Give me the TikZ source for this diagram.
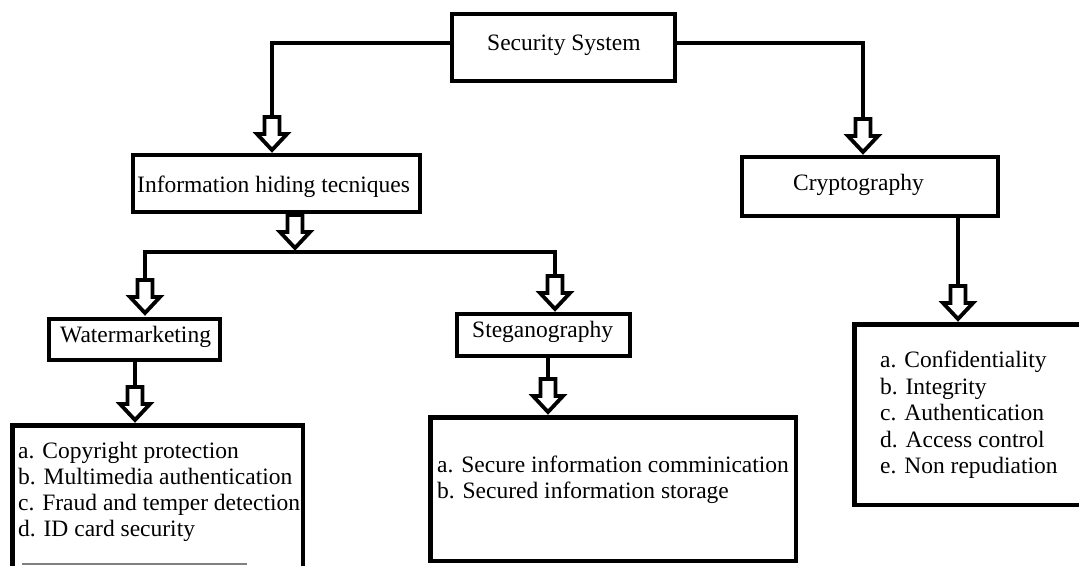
\documentclass[tikz,border=0pt]{standalone}
\usepackage{fontspec}
\setmainfont{Liberation Serif}
\usetikzlibrary{calc}
\begin{document}
\begin{tikzpicture}[x=1pt,y=-1pt,
  box/.style={draw, line width=4.5pt, inner sep=0pt},
  conn/.style={line width=4pt},
  txt/.style={anchor=base west, inner sep=0pt, font=\fontsize{23.5}{26.5}\selectfont},
  pics/hollow/.style={code={
    \draw[line width=3.8pt, fill=white, line join=miter]
      (-7.5,-36) -- (-7.5,-19) -- (-15,-19) -- (0,-3) -- (15,-19) -- (7.5,-19) -- (7.5,-36) -- cycle;}}
]
\useasboundingbox (0,0) rectangle (1079,565);
\clip (0,0) rectangle (1079,565);

% boxes
\node[box, minimum width=223pt, minimum height=67pt]   (ss)    at (563.5,47.5) {};
\node[box, minimum width=287pt, minimum height=57pt]   (info)  at (276.5,183.5) {};
\node[box, minimum width=256pt, minimum height=59pt]   (crypt) at (870,186.5) {};
\node[box, minimum width=171pt, minimum height=41pt]   (wm)    at (134.5,339.5) {};
\node[box, minimum width=173pt, minimum height=42pt]   (steg)  at (543.5,335) {};
\node[box, minimum width=290.5pt, minimum height=200pt] (wml)  at (157.5,525.25) {};
\node[box, minimum width=365.5pt, minimum height=143.5pt] (stl) at (613,489) {};
\node[box, minimum width=300pt, minimum height=180.5pt] (crl)  at (1004.25,414.5) {};

% box captions
\node[txt] (ss-t)    at (487,50)  {Security System};
\node[txt] (info-t)  at (137,192) {Information hiding tecniques};
\node[txt] (crypt-t) at (793,190) {Cryptography};
\node[txt] (wm-t)    at (60,342)  {Watermarketing};
\node[txt] (steg-t)  at (472,337) {Steganography};

% item lists
\node[txt] (wml1) at (18,458) {a. Copyright protection};
\node[txt] (wml2) at (18,484) {b. Multimedia authentication};
\node[txt] (wml3) at (18,510.5) {c. Fraud and temper detection};
\node[txt] (wml4) at (18,536.5) {d. ID card security};

\node[txt] (stl1) at (437,472.5) {a. Secure information comminication};
\node[txt] (stl2) at (437,498.5) {b. Secured information storage};

\node[txt] (crl1) at (880,367.5) {a. Confidentiality};
\node[txt] (crl2) at (880,394) {b. Integrity};
\node[txt] (crl3) at (880,420.5) {c. Authentication};
\node[txt] (crl4) at (880,447) {d. Access control};
\node[txt] (crl5) at (880,473.5) {e. Non repudiation};

% arrow tips and shaft tops
\coordinate (t1) at (272,153);  \coordinate (s1) at (272,117);
\coordinate (t2) at (863,155);  \coordinate (s2) at (863,119);
\coordinate (hub) at (295,252); \coordinate (t3) at (295,251);
\coordinate (t4) at (145,316);  \coordinate (s4) at (145,280);
\coordinate (t5) at (555,312);  \coordinate (s5) at (555,276);
\coordinate (t6) at (135,423);  \coordinate (s6) at (135,387);
\coordinate (t7) at (548,415);  \coordinate (s7) at (548,379);
\coordinate (t8) at (958,322);  \coordinate (s8) at (958,286);

% connectors
\draw[conn] ($(ss.west)+(0,-4.5)$) -| (s1);
\draw[conn] ($(ss.east)+(0,-4.5)$) -| (s2);
\draw[conn] (s4) |- (hub) -| (s5);
\draw[conn] (wm.south -| s6) -- (s6);
\draw[conn] (steg.south -| s7) -- (s7);
\draw[conn] (crypt.south -| s8) -- (s8);

% hollow block arrows
\pic at (t1) {hollow};
\pic at (t2) {hollow};
\pic at (t3) {hollow};
\pic at (t4) {hollow};
\pic at (t5) {hollow};
\pic at (t6) {hollow};
\pic at (t7) {hollow};
\pic at (t8) {hollow};

% thin rule along the lower edge
\draw[gray, line width=1.2pt] (22,564) coordinate (r1) -- (247,564) coordinate (r2);
\end{tikzpicture}
\end{document}
